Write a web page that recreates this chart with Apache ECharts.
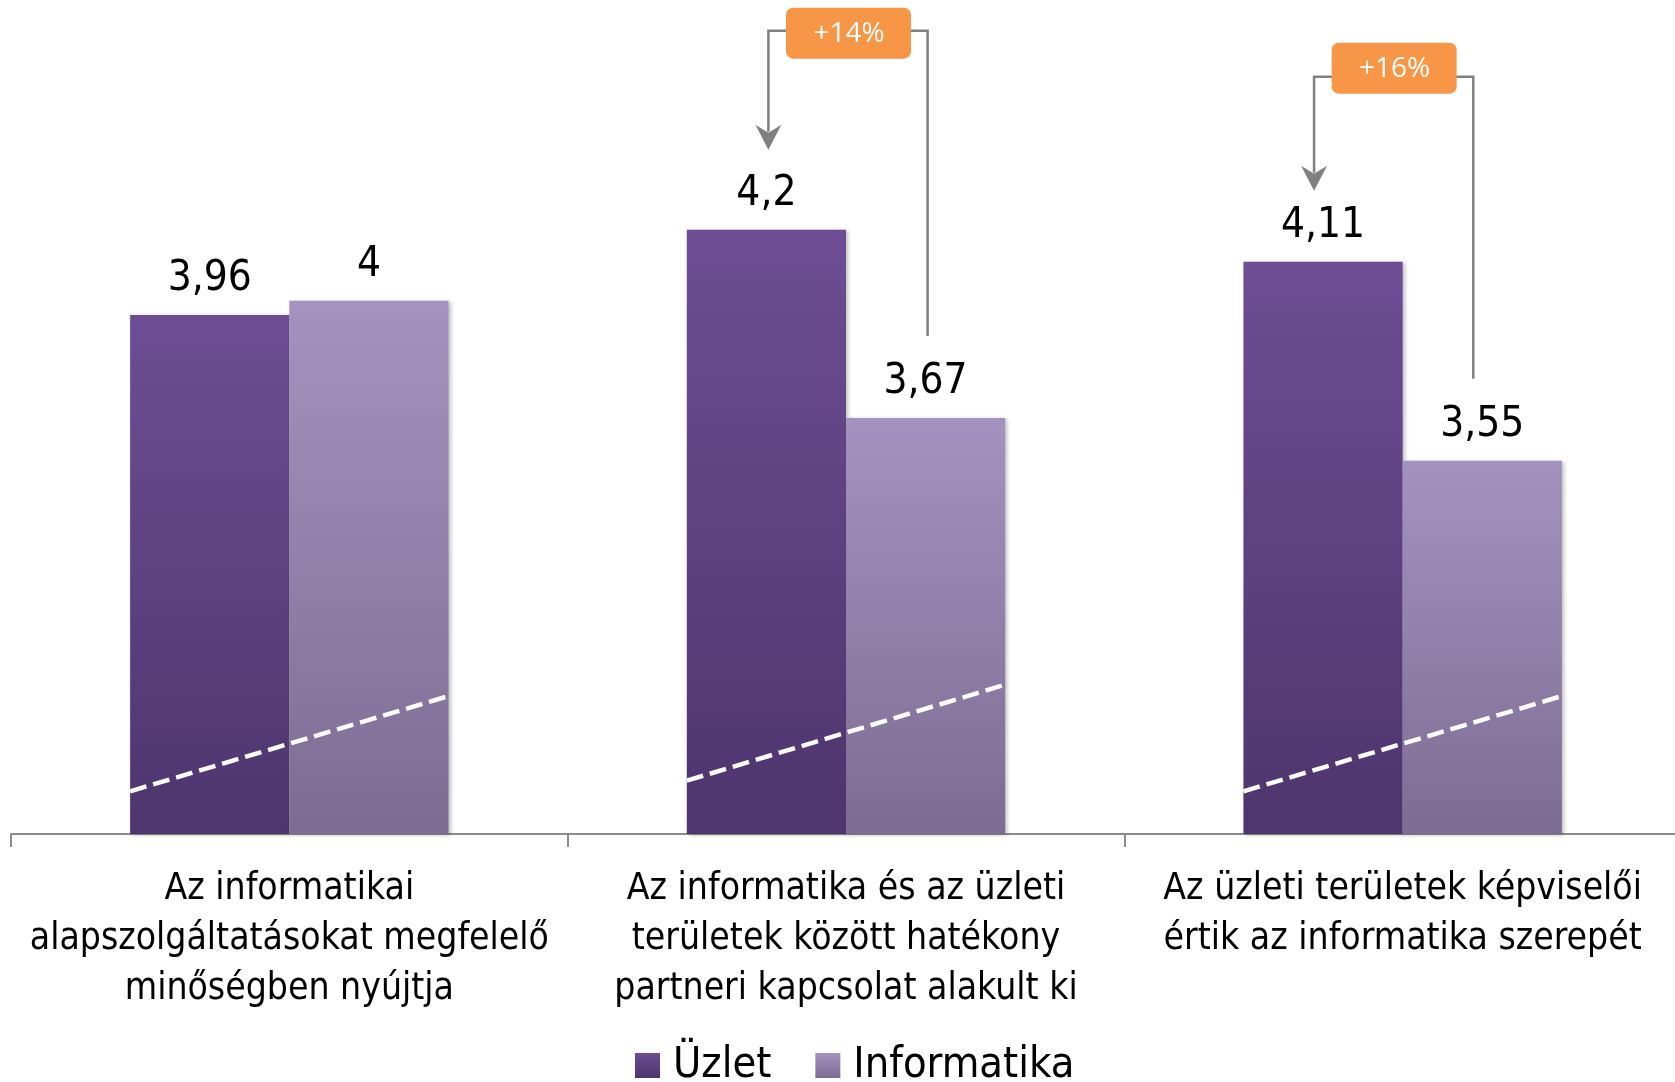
<!DOCTYPE html>
<html>
<head>
<meta charset="utf-8">
<script src="https://cdn.jsdelivr.net/npm/echarts@6/dist/echarts.min.js"></script>
<style>
html,body{margin:0;padding:0;background:#fff;}
#chart{width:1675px;height:1082px;}
</style>
</head>
<body>
<div id="chart"></div>
<script>
// ---- data ----
const categories = [
  'Az informatikai\nalapszolgáltatásokat megfelelő\nminőségben nyújtja',
  'Az informatika és az üzleti\nterületek között hatékony\npartneri kapcsolat alakult ki',
  'Az üzleti területek képviselői\nértik az informatika szerepét'
];
const seriesNames = ['Üzlet', 'Informatika'];
const uzletValues = [3.96, 4.2, 4.11];
const informatikaValues = [4, 3.67, 3.55];
// annotations: category index, label
const annoCategories = [1, 2];
const annoLabels = ['+14%', '+16%'];
// decorative dashed lines (left value, right value) per category
const dashLeft = [2.62, 2.65, 2.62];
const dashRight = [2.888, 2.92, 2.888];

const FONT = "'Liberation Sans Narrow', 'DejaVu Sans Condensed', sans-serif";
const BAR_FRAC = 0.286;
// per-annotation layout tweaks (pixels): horizontal shift, box/line/arrow-tip distance above the higher bar
const ANNO_LAYOUT = [
  {dx: 2, box: 196, line: 199, tip: 80},
  {dx: -9, box: 193, line: 185, tip: 71}
];

const chart = echarts.init(document.getElementById('chart'), null, {renderer: 'canvas'});

function grad(top, bottom) {
  return new echarts.graphic.LinearGradient(0, 0, 0, 1, [
    {offset: 0, color: top}, {offset: 1, color: bottom}
  ]);
}

const labelCfg = {
  show: true,
  position: 'top',
  distance: 15,
  color: '#000',
  fontFamily: FONT,
  fontSize: 42,
  formatter: p => String(p.value).replace('.', ',')
};

const annoData = annoCategories.map(c => [c, uzletValues[c], informatikaValues[c]]);
const dashData = categories.map((_, i) => [i, dashLeft[i], dashRight[i]]);

const option = {
  animation: false,
  backgroundColor: '#fff',
  grid: {left: 11, width: 1670, top: 123, height: 711, containLabel: false, outerBoundsMode: 'none'},
  legend: {
    data: seriesNames,
    left: 630,
    top: 1039,
    itemWidth: 25,
    itemHeight: 25,
    itemGap: 44,
    icon: 'rect',
    textStyle: {fontFamily: FONT, fontSize: 43, color: '#000', padding: [0, 0, 0, 8]}
  },
  xAxis: {
    type: 'category',
    data: categories,
    axisLine: {lineStyle: {color: '#8c8c8c', width: 2}},
    axisTick: {show: true, length: 13, lineStyle: {color: '#8c8c8c', width: 2}},
    axisLabel: {
      interval: 0,
      margin: 30,
      color: '#000',
      fontFamily: FONT,
      fontSize: 37,
      lineHeight: 50
    }
  },
  yAxis: {
    type: 'value',
    min: 2.5,
    max: 4.5,
    show: false,
    splitLine: {show: false}
  },
  series: [
    {
      name: seriesNames[0],
      type: 'bar',
      data: uzletValues,
      barWidth: (BAR_FRAC * 100) + '%',
      barGap: '0%',
      itemStyle: {
        color: grad('#6e4d94', '#4e356d'),
        shadowColor: 'rgba(0,0,0,0.25)', shadowBlur: 4, shadowOffsetX: 2, shadowOffsetY: 1
      },
      label: labelCfg
    },
    {
      name: seriesNames[1],
      type: 'bar',
      data: informatikaValues,
      barWidth: (BAR_FRAC * 100) + '%',
      barGap: '0%',
      itemStyle: {
        color: grad('#a493be', '#7d6c92'),
        shadowColor: 'rgba(0,0,0,0.25)', shadowBlur: 4, shadowOffsetX: 2, shadowOffsetY: 1
      },
      label: labelCfg
    },
    {
      name: 'dash',
      type: 'custom',
      clip: false,
      z: 5,
      silent: true,
      data: dashData,
      encode: {x: 0, y: [1, 2]},
      renderItem: function (params, api) {
        const cat = api.value(0);
        const pL = api.coord([cat, api.value(1)]);
        const pR = api.coord([cat, api.value(2)]);
        const bw = api.size([1, 0])[0] * BAR_FRAC;
        return {
          type: 'line',
          shape: {x1: pL[0] - bw, y1: pL[1], x2: pR[0] + bw, y2: pR[1]},
          style: {stroke: '#fff', lineWidth: 4.5, lineDash: [17, 7]}
        };
      }
    },
    {
      name: 'anno',
      type: 'custom',
      clip: false,
      z: 6,
      silent: true,
      data: annoData,
      encode: {x: 0, y: [1, 2]},
      renderItem: function (params, api) {
        const L = ANNO_LAYOUT[params.dataIndex];
        const cat = api.value(0);
        const hi = api.coord([cat, api.value(1)]);
        const lo = api.coord([cat, api.value(2)]);
        const bw = api.size([1, 0])[0] * BAR_FRAC;
        const cx = hi[0] + L.dx;
        const xl = cx - bw / 2;
        const xr = cx + bw / 2;
        const level = hi[1] - L.line;
        const boxC = hi[1] - L.box;
        const tip = hi[1] - L.tip;
        const rEnd = lo[1] - 82;
        const gray = '#808080';
        return {
          type: 'group',
          children: [
            {
              type: 'polyline',
              shape: {points: [[xl, tip - 18], [xl, level], [xr, level], [xr, rEnd]]},
              style: {stroke: gray, lineWidth: 2.5, fill: null}
            },
            {
              type: 'polygon',
              shape: {points: [[xl, tip], [xl - 13, tip - 25], [xl, tip - 17], [xl + 13, tip - 25]]},
              style: {fill: gray}
            },
            {
              type: 'rect',
              shape: {x: cx - 62, y: boxC - 26, width: 125, height: 51, r: 7},
              style: {fill: '#f79646'}
            },
            {
              type: 'text',
              x: cx + 1, y: boxC,
              style: {
                text: annoLabels[params.dataIndex],
                fill: '#fff',
                font: "28px 'Open Sans', 'Noto Sans', sans-serif",
                align: 'center',
                verticalAlign: 'middle'
              }
            }
          ]
        };
      }
    }
  ]
};
chart.setOption(option);
</script>
</body>
</html>
